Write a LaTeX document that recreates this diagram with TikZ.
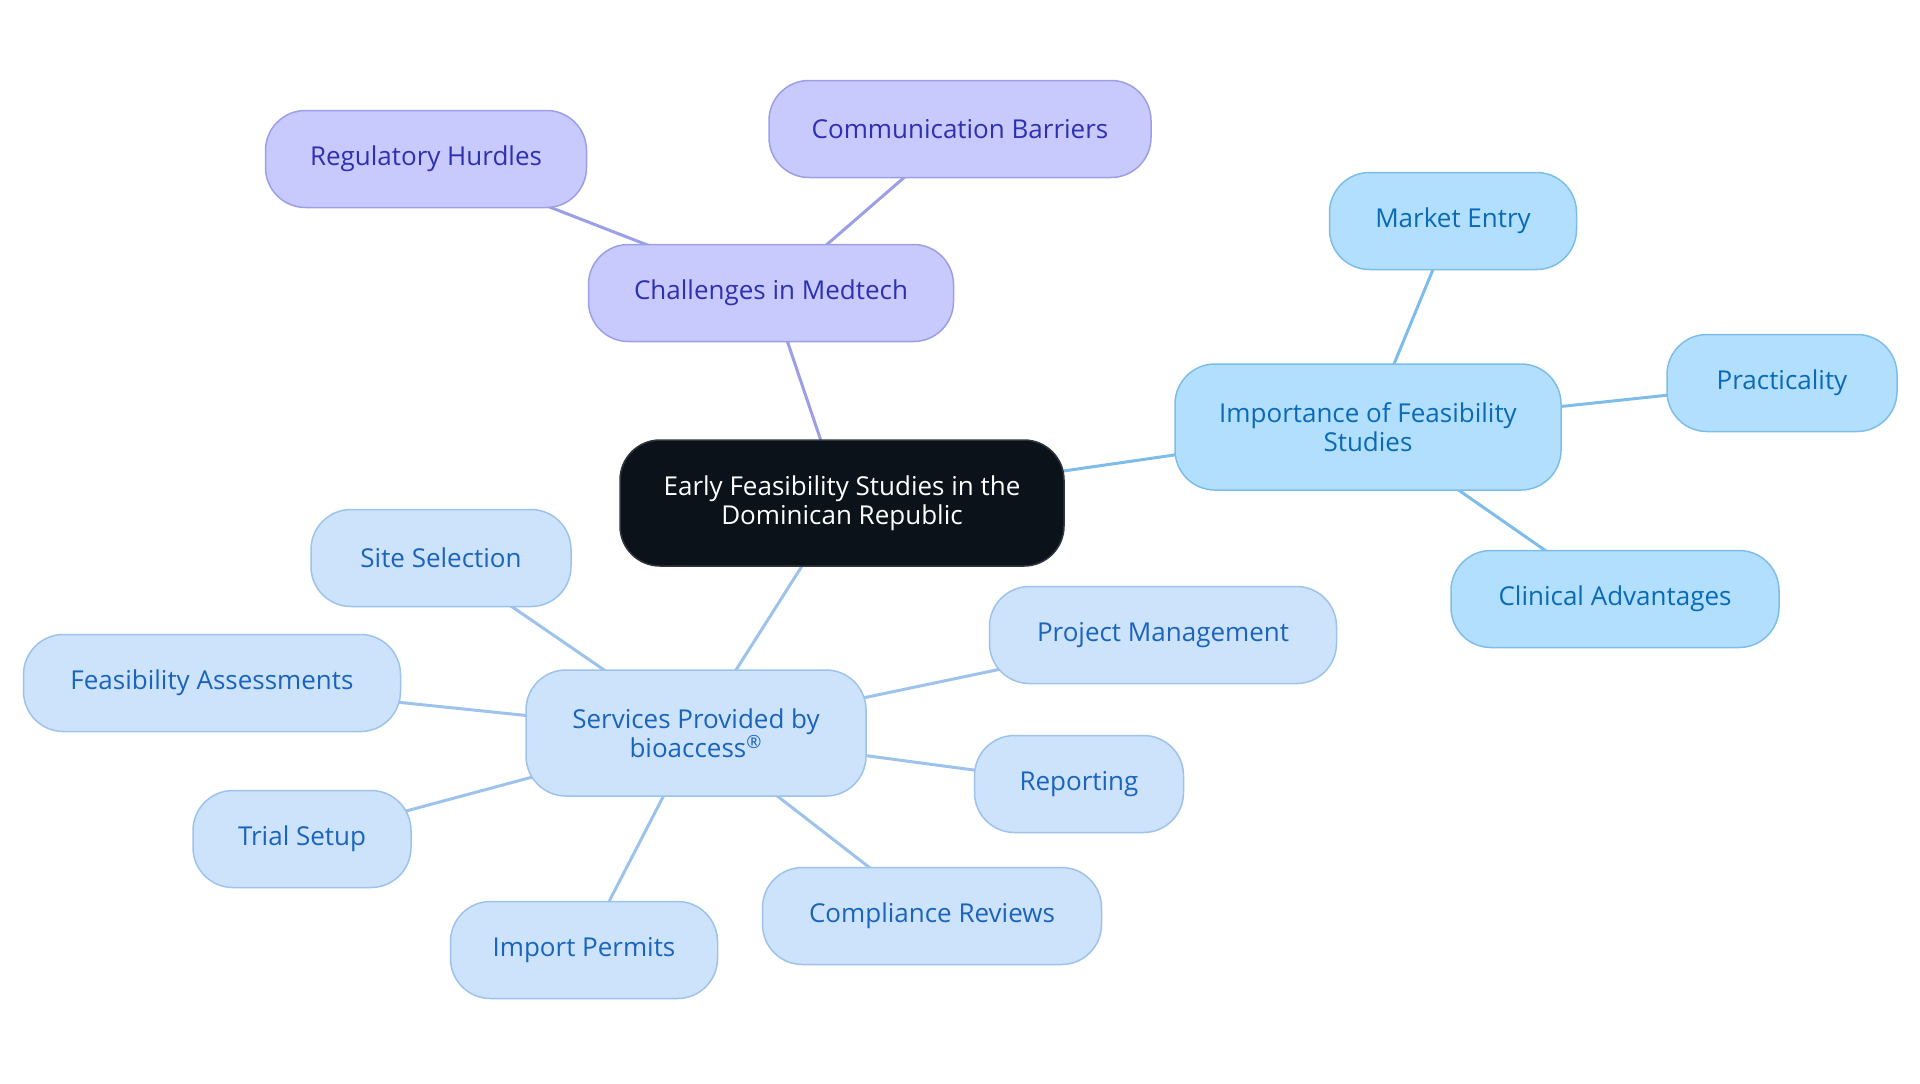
\documentclass[tikz,border=0pt]{standalone}
\usepackage{fontspec}
\setmainfont{Open Sans}
\usepackage{tikz}
\usetikzlibrary{positioning,backgrounds}
\definecolor{rootfill}{HTML}{0B121A}
\definecolor{rootline}{HTML}{30363D}
\definecolor{lilfill}{HTML}{C8CAFE}
\definecolor{lilline}{HTML}{9C9FE8}
\definecolor{liltext}{HTML}{2E30B0}
\definecolor{skyfill}{HTML}{B2DFFD}
\definecolor{skyline}{HTML}{7EBDEA}
\definecolor{skytext}{HTML}{0A6AB5}
\definecolor{svcfill}{HTML}{CDE3FB}
\definecolor{svcline}{HTML}{9DC3EC}
\definecolor{svctext}{HTML}{1A64BC}
\tikzset{
  topic/.style={rectangle, rounded corners=20pt, align=center, inner sep=0pt,
                line width=0.75pt, minimum height=48.5pt,
                font=\fontsize{13}{14.7}\selectfont},
  root/.style={topic, draw=rootline, fill=rootfill, text=white, minimum height=63pt},
  chalbox/.style={topic, draw=lilline, fill=lilfill, text=liltext},
  impbox/.style={topic, draw=skyline, fill=skyfill, text=skytext},
  svcbox/.style={topic, draw=svcline, fill=svcfill, text=svctext},
  lnlil/.style={draw=lilline, line width=1.5pt},
  lnsky/.style={draw=skyline, line width=1.5pt},
  lnsvc/.style={draw=svcline, line width=1.5pt},
}

\begin{document}
\begin{tikzpicture}[x=0.5pt,y=-0.5pt]
\useasboundingbox (0,0) rectangle (1920,1083);

% centre
\node[root, minimum width=222pt] (ctr) at (842,503)
   {Early Feasibility Studies in the\\Dominican Republic};

% challenges branch
\node[chalbox, minimum width=182.5pt] (chal) at (771,293) {Challenges in Medtech};
\node[chalbox, minimum width=160.5pt] (reg) at (426,159) {Regulatory Hurdles};
\node[chalbox, minimum width=191pt] (comm) at (960,129) {Communication Barriers};

% importance branch
\node[impbox, minimum width=193pt, minimum height=63pt] (imp) at (1368,427)
   {Importance of Feasibility\\Studies};
\node[impbox, minimum width=123.5pt] (market) at (1453,221) {Market Entry};
\node[impbox, minimum width=115pt] (pract) at (1782,383) {Practicality};
\node[impbox, minimum width=164pt] (clin) at (1615,599) {Clinical Advantages};

% services branch
\node[svcbox, minimum width=170pt, minimum height=63pt] (serv) at (696,733)
   {Services Provided by\\bioaccess\textsuperscript{®}};
\node[svcbox, minimum width=130pt] (site) at (441,558) {Site Selection};
\node[svcbox, minimum width=188.5pt] (feas) at (212,683) {Feasibility Assessments};
\node[svcbox, minimum width=109pt] (trial) at (302,839) {Trial Setup};
\node[svcbox, minimum width=133.5pt] (import) at (584,950) {Import Permits};
\node[svcbox, minimum width=169.5pt] (compl) at (932,916) {Compliance Reviews};
\node[svcbox, minimum width=104.5pt] (report) at (1079,784) {Reporting};
\node[svcbox, minimum width=173.5pt] (proj) at (1163,635) {Project Management};

% connectors behind the boxes
\begin{scope}[on background layer]
\draw[lnlil] (ctr.center) -- (chal.center);
\draw[lnlil] (chal.center) -- (reg.center);
\draw[lnlil] (chal.center) -- (comm.center);
\draw[lnsky] (ctr.center) -- (imp.center);
\draw[lnsky] (imp.center) -- (market.center);
\draw[lnsky] (imp.center) -- (pract.center);
\draw[lnsky] (imp.center) -- (clin.center);
\draw[lnsvc] (ctr.center) -- (serv.center);
\foreach \leaf in {site,feas,trial,import,compl,report,proj}
  \draw[lnsvc] (serv.center) -- (\leaf.center);
\end{scope}
\end{tikzpicture}
\end{document}
